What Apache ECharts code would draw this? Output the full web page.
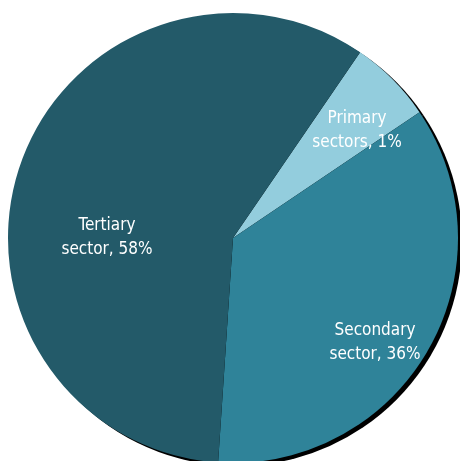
<!DOCTYPE html>
<html>
<head>
<meta charset="utf-8">
<script src="https://cdn.jsdelivr.net/npm/echarts@6/dist/echarts.min.js"></script>
<style>
  html, body { margin: 0; padding: 0; background: #fff; }
  #chart { width: 460px; height: 461px; }
</style>
</head>
<body>
<div id="chart"></div>
<script>
// sectors, in drawing order (clockwise from the top right)
const sectorNames = ['Primary sectors', 'Secondary sector', 'Tertiary sector']
const sectorValues = [6, 35.5, 58.5]
const sectorLabels = ['Primary\nsectors, 1%', 'Secondary\nsector, 36%', 'Tertiary\nsector, 58%']

const colors = ['#93cddd', '#2f8399', '#235a69']
// where each label sits (px)
const labelPos = [[357, 131], [375, 343], [107, 238]]

const chart = echarts.init(document.getElementById('chart'))
chart.setOption({
  animation: false,
  series: [
    // hard black shadow behind the pie
    {
      type: 'pie',
      silent: true,
      center: [237, 241],
      radius: 225,
      startAngle: 55.6,
      label: { show: false },
      labelLine: { show: false },
      itemStyle: { color: '#000' },
      data: sectorValues.map(v => ({ value: v }))
    },
    {
      type: 'pie',
      center: [233, 238],
      radius: 225,
      startAngle: 55.6,
      labelLine: { show: false },
      label: {
        show: true,
        position: 'inside',
        formatter: p => sectorLabels[p.dataIndex],
        color: '#fff',
        // narrow face like the original's Gill Sans
        fontWeight: 'normal condensed',
        fontFamily: '"DejaVu Sans", sans-serif',
        fontSize: 17,
        lineHeight: 24,
        align: 'center'
      },
      labelLayout: p => ({
        x: labelPos[p.dataIndex][0],
        y: labelPos[p.dataIndex][1],
        align: 'center',
        verticalAlign: 'middle'
      }),
      data: sectorNames.map((n, i) => ({
        name: n,
        value: sectorValues[i],
        itemStyle: { color: colors[i] }
      }))
    }
  ]
})
</script>
</body>
</html>
